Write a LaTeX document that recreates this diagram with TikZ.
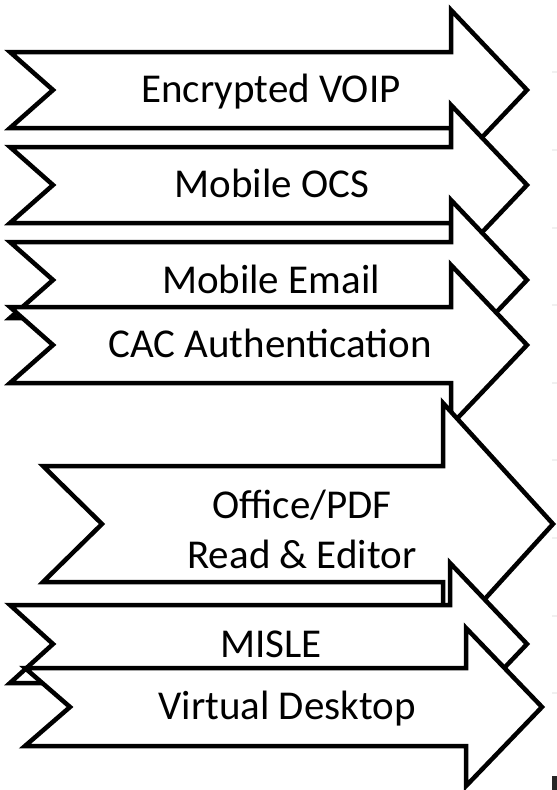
\documentclass[tikz,border=0pt]{standalone}
\usepackage{fontspec}
\setmainfont{Carlito}
\tikzset{
  arrowbox/.style={draw=black, fill=white, line width=4.5pt, line join=miter, miter limit=10},
  lbl/.style={font=\fontsize{41}{50}\selectfont, inner sep=0pt, anchor=base},
  ghostline/.style={draw=black!6, line width=1.4pt}
}
% #1 left x, #2 notch x, #3 centre y, #4 body half-height, #5 head back x, #6 head half-height, #7 tip x
\newcommand\chevarrow[7]{%
  \draw[arrowbox] (#1,#3-#4) -- (#5,#3-#4) -- (#5,#3-#6) -- (#7,#3) -- (#5,#3+#6)
    -- (#5,#3+#4) -- (#1,#3+#4) -- (#2,#3) -- cycle;
}
\begin{document}
\begin{tikzpicture}[x=1pt, y=-1pt]
  \useasboundingbox (0,0) rectangle (557,790);
  \fill[white] (0,0) rectangle (557,790);
  % faint background marks at the right edge
  \foreach \yy in {72,150,228,305,383,460,538,616,693}
    \draw[ghostline] (552,\yy) -- (557,\yy);
  \fill[black!85] (552,776) rectangle (557,790);
  % arrows, drawn top to bottom (each over the previous one)
  \chevarrow{10}{53}{90}{38}{451}{80}{527}
  \node[lbl] (t1) at (271,102) {Encrypted VOIP};
  \chevarrow{10}{53}{185}{38}{451}{80}{527}
  \node[lbl] (t2) at (272,197) {Mobile OCS};
  \chevarrow{10}{53}{280}{38}{451}{80}{527}
  \node[lbl] (t3) at (271,293) {Mobile Email};
  \chevarrow{10}{53}{345}{38}{451}{80}{527}
  \node[lbl] (t4) at (270,357) {CAC Authentication};
  \chevarrow{43}{102}{524}{58}{443}{121}{553}
  \node[lbl] (t5a) at (302,518) {Office/PDF};
  \node[lbl] (t5b) at (302,568) {Read \& Editor};
  \chevarrow{10}{53}{644}{39}{450}{81}{527}
  \node[lbl] (t6) at (271,657) {MISLE};
  \chevarrow{25}{70}{707}{39}{466}{79}{542}
  \node[lbl] (t7) at (287,719) {Virtual Desktop};
\end{tikzpicture}
\end{document}
